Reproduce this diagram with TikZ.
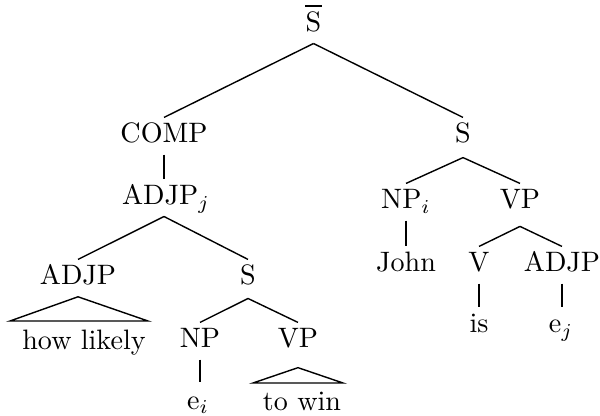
\documentclass[tikz,border=0pt]{standalone}
\begin{document}
\begin{tikzpicture}[x=0.356pt,y=-0.356pt,
  lbl/.style={anchor=base,inner sep=0pt,text height=8.9pt,text depth=3.9pt},
  edge/.style={line width=0.5pt}]
\useasboundingbox (0,0) rectangle (600,416);
% level 0
\node[lbl] (sbar) at (313.5,32) {\makebox[0pt][l]{\hspace{-0.22pt}\rule[9pt]{6pt}{0.6pt}}S};
% level 1
\node[lbl] (comp) at (164,143) {COMP};
\node[lbl,text depth=5pt] (s1) at (463,143) {S};
% level 2
\node[lbl] (adjpj) at (166,205) {ADJP$_j$};
\node[lbl] (npi) at (406,209) {NP$_i$};
\node[lbl,text depth=6pt] (vp1) at (520,209) {VP};
% level 3
\node[lbl,text depth=4pt] (adjp) at (78,285) {ADJP};
\node[lbl,text depth=4.6pt] (s2) at (248,285) {S};
\node[lbl] (john) at (406,272) {John};
\node[lbl] (v) at (479,272) {V};
\node[lbl] (adjp2) at (562,272) {ADJP};
% level 4
\node[lbl,text height=10.3pt] (hl) at (84,350) {how likely};
\node[lbl] (np) at (200,348) {NP};
\node[lbl,text depth=6.8pt] (vp2) at (298,348) {VP};
\node[lbl] (is) at (479,333) {is};
\node[lbl] (ej) at (561,333) {e$_j$};
% level 5
\node[lbl,text height=9.25pt] (ei) at (198,409) {e$_i$};
\node[lbl,text height=9.6pt] (tw) at (302,410) {to win};
% triangle corners
\coordinate (hlL) at (10,321);
\coordinate (hlR) at (148,321);
\coordinate (twL) at (253,383);
\coordinate (twR) at (343,383);
% edges
\draw[edge] (sbar.south) -- (comp.north);
\draw[edge] (sbar.south) -- (s1.north);
\draw[edge] (comp.south) -- (comp.south |- adjpj.north);
\draw[edge] (adjpj.south -| comp.south) -- (adjp.north);
\draw[edge] (adjpj.south -| comp.south) -- (s2.north);
\draw[edge] (s2.south) -- (np.north);
\draw[edge] (s2.south) -- (vp2.north);
\draw[edge] (np.south) -- (np.south |- ei.north);
\draw[edge] (adjp.south) -- (hlL) -- (hlR) -- cycle;
\draw[edge] (vp2.south) -- (twL) -- (twR) -- cycle;
\draw[edge] (s1.south) -- (npi.north);
\draw[edge] (s1.south) -- (vp1.north);
\draw[edge] (npi.south) -- (john.north);
\draw[edge] (vp1.south) -- (v.north);
\draw[edge] (vp1.south) -- (adjp2.north);
\draw[edge] (v.south) -- (is.north);
\draw[edge] (adjp2.south) -- (adjp2.south |- ej.north);
\end{tikzpicture}
\end{document}
